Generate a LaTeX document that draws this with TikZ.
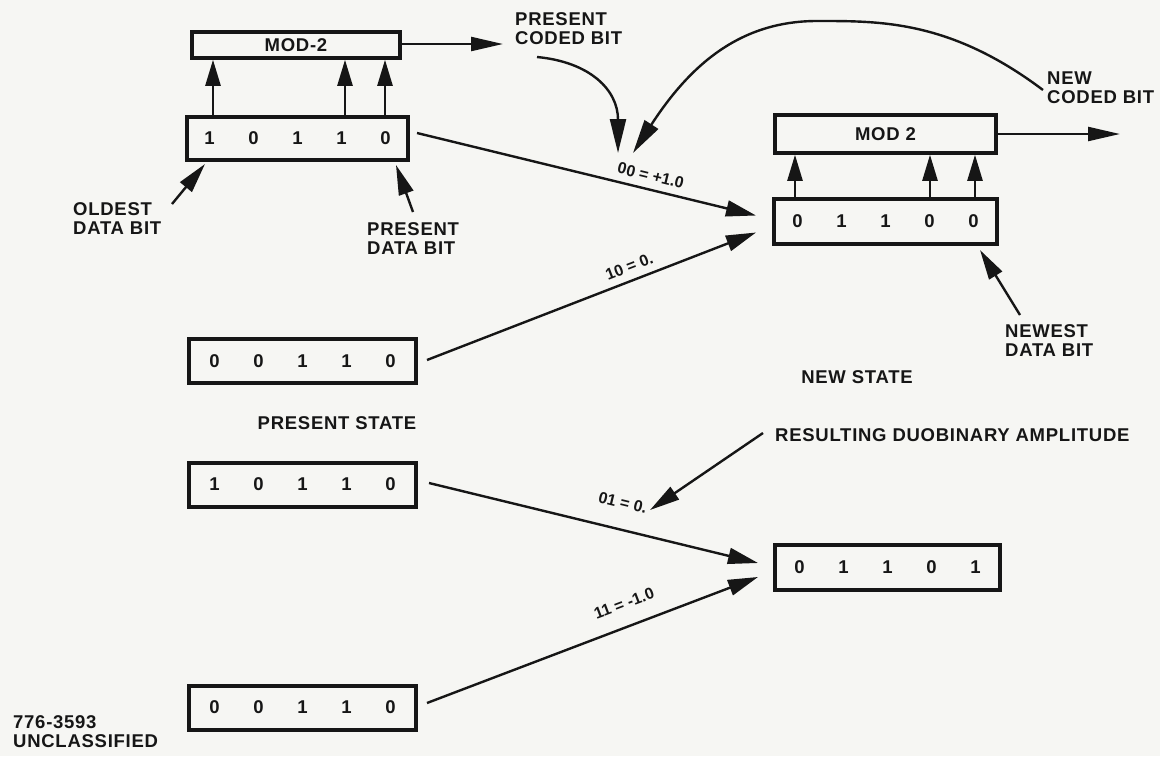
\documentclass[tikz,border=0pt]{standalone}
\usepackage{fontspec}
\setmainfont{Liberation Sans}
\newfontfamily\spaced[LetterSpace=4]{Liberation Sans}
\usetikzlibrary{arrows.meta,calc}
\definecolor{paper}{RGB}{246,246,243}
\definecolor{ink}{RGB}{22,22,22}
\newcommand{\bitrow}[5]{\makebox[44pt]{#1}\makebox[44pt]{#2}\makebox[44pt]{#3}\makebox[44pt]{#4}\makebox[44pt]{#5}}
\begin{document}
\begin{tikzpicture}[x=1pt,y=-1pt,
  every node/.style={font=\spaced\fontsize{18.5}{19}\selectfont\bfseries, text=ink},
  reg/.style={draw=ink, line width=4pt, inner sep=0pt, minimum height=44pt},
  modbox/.style={draw=ink, line width=3.5pt, inner sep=0pt},
  conn/.style={draw=ink, line width=2.4pt, -{Triangle[length=30pt,width=16pt]}},
  uparr/.style={draw=ink, line width=2.5pt, -{Triangle[length=26pt,width=15pt]}},
  outarr/.style={draw=ink, line width=2.3pt, -{Triangle[length=32pt,width=14pt]}},
  note/.style={draw=ink, line width=2.4pt, -{Triangle[length=30pt,width=15pt]}},
  curvearr/.style={draw=ink, line width=2.4pt, -{Triangle[length=34pt,width=16pt]}},
  lbl/.style={font=\fontsize{16}{17}\selectfont\bfseries, sloped, above=7pt, inner sep=0pt},
  txt/.style={align=left, anchor=west, inner sep=0pt}
]
\fill[paper] (0,0) rectangle (1160,756);
\useasboundingbox (0,0) rectangle (1160,756);

% registers and mod-2 boxes
\node[modbox, minimum width=208pt, minimum height=26pt] (M1) at (296,45) {MOD-2};
\node[reg, minimum width=221pt, minimum height=43pt] (R1) at (297.5,138.5) {\bitrow{1}{0}{1}{1}{0}};
\node[reg, minimum width=227pt] (R2) at (302.5,361) {\bitrow{0}{0}{1}{1}{0}};
\node[reg, minimum width=227pt] (R3) at (302.5,484.5) {\bitrow{1}{0}{1}{1}{0}};
\node[reg, minimum width=227pt] (R4) at (302.5,707.5) {\bitrow{0}{0}{1}{1}{0}};
\node[modbox, minimum width=221pt, minimum height=38pt] (M2) at (885.5,134) {MOD 2};
\node[reg, minimum width=223pt, minimum height=45pt] (N1) at (885.5,221.5) {\bitrow{0}{1}{1}{0}{0}};
\node[reg, minimum width=225pt, minimum height=45pt] (N2) at (887.5,567.5) {\bitrow{0}{1}{1}{0}{1}};

% texts
\node[txt] (pcb) at (515,29) {PRESENT\\CODED BIT};
\node[txt] (ncb) at (1047,87.5) {NEW\\CODED BIT};
\node[txt] (old) at (73,218.5) {OLDEST\\DATA BIT};
\node[txt] (pdb) at (367,239) {PRESENT\\DATA BIT};
\node[txt] (ndb) at (1005,341) {NEWEST\\DATA BIT};
\node (ps) at (337,423) {PRESENT STATE};
\node (ns) at (857,377) {NEW STATE};
\node[txt] (rda) at (775,435) {RESULTING DUOBINARY AMPLITUDE};
\node[txt] (cls) at (13,731.5) {776-3593\\UNCLASSIFIED};

% taps into mod-2 boxes
\coordinate (r1a) at ($(R1.north west)+(28,0)$);
\coordinate (r1b) at ($(R1.north west)+(160,0)$);
\coordinate (r1c) at ($(R1.north west)+(200,0)$);
\draw[uparr] (r1a) -- (r1a |- M1.south);
\draw[uparr] (r1b) -- (r1b |- M1.south);
\draw[uparr] (r1c) -- (r1c |- M1.south);
\coordinate (n1a) at ($(N1.north west)+(23,0)$);
\coordinate (n1b) at ($(N1.north west)+(158,0)$);
\coordinate (n1c) at ($(N1.north west)+(203,0)$);
\draw[uparr] (n1a) -- (n1a |- M2.south);
\draw[uparr] (n1b) -- (n1b |- M2.south);
\draw[uparr] (n1c) -- (n1c |- M2.south);

% coded bit outputs
\coordinate (pout) at (503,44);
\coordinate (nout) at (1120,134);
\draw[outarr] (M1.east |- pout) -- (pout);
\draw[outarr] (M2.east) -- (nout);

% transitions
\draw[conn] ($(R1.east)+(7,-5.5)$) -- node[lbl, pos=0.68] {00 = +1.0} ($(N1.west)+(-16,-6)$);
\draw[conn] ($(R2.east)+(9,-1)$) -- node[lbl, pos=0.63] {10 = 0.} ($(N1.west)+(-16,11)$);
\draw[conn] ($(R3.east)+(11,-1.5)$) -- node[lbl, pos=0.57, above=13pt] {01 = 0.} ($(N2.west)+(-15,-4.5)$);
\draw[conn] ($(R4.east)+(9,-4.5)$) -- node[lbl, pos=0.62, above=9pt] {11 = -1.0} ($(N2.west)+(-15,9.5)$);

% annotation arrows
\coordinate (oldS) at (172,204);
\coordinate (oldT) at (205,164);
\draw[note] (oldS) -- (oldT);
\coordinate (pdbS) at (413,212);
\coordinate (pdbT) at (396,165);
\draw[note] (pdbS) -- (pdbT);
\coordinate (ndbS) at (1020,315);
\coordinate (ndbT) at (980,250);
\draw[note] (ndbS) -- (ndbT);
\coordinate (rdaS) at (763,433);
\coordinate (rdaT) at (650,510);
\draw[note] (rdaS) -- (rdaT);

% curved pointers to the amplitude label
\coordinate (pcbS) at (537,57);
\coordinate (pcbT) at (618,153);
\draw[curvearr] (pcbS) .. controls (590,62) and (618,90) .. (pcbT);
\coordinate (ncbS) at (1043,90);
\coordinate (ncbP) at (817,21);
\coordinate (ncbT) at (633,153);
\draw[curvearr] (ncbS) .. controls (950,20) and (880,21) .. (ncbP) .. controls (740,21) and (690,65) .. (ncbT);
\end{tikzpicture}
\end{document}
